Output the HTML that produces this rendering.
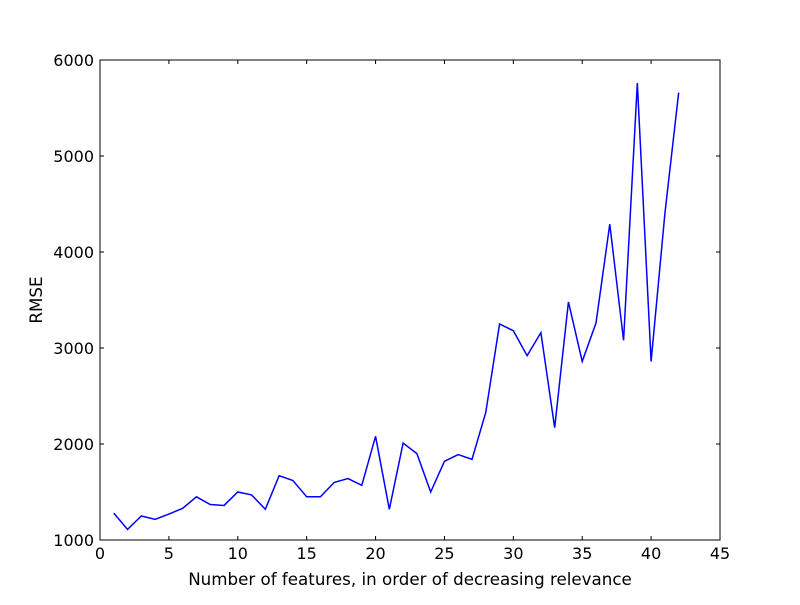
<!DOCTYPE html>
<html><head><meta charset="utf-8"><style>
body{margin:0;background:#fff;}
svg text{font-family:"DejaVu Sans","Liberation Sans",sans-serif;font-size:16px;fill:#000;}
svg text.title{font-size:16.7px;}
</style></head><body>
<svg id="chart" width="800" height="600" xmlns="http://www.w3.org/2000/svg">
<rect width="800" height="600" fill="#fff"/>
<g id="ticks"></g>
<path id="line" fill="none" stroke="#0000ff" stroke-width="1.5"/>
<rect x="100" y="60" width="620" height="480" fill="none" stroke="#000" stroke-width="1"/>
<text class="title" x="410" y="585" text-anchor="middle">Number of features, in order of decreasing relevance</text>
<text class="title" transform="translate(42,300) rotate(-90)" text-anchor="middle">RMSE</text>
</svg>
<script>
const features = [1,2,3,4,5,6,7,8,9,10,11,12,13,14,15,16,17,18,19,20,21,22,23,24,25,26,27,28,29,30,31,32,33,34,35,36,37,38,39,40,41,42];
const rmse = [1280,1110,1250,1215,1270,1330,1450,1370,1360,1500,1470,1320,1670,1620,1450,1450,1600,1640,1570,2080,1320,2010,1900,1500,1820,1890,1840,2330,3250,3180,2920,3160,2170,3480,2860,3260,4290,3080,5760,2860,4400,5660];
const xTicks = [0,5,10,15,20,25,30,35,40,45];
const yTicks = [1000,2000,3000,4000,5000,6000];
const X = v => 100 + v/45*620;
const Y = v => 540 - (v-1000)/5000*480;
const NS = "http://www.w3.org/2000/svg";
const g = document.getElementById('ticks');
function mk(tag, attrs){const e=document.createElementNS(NS,tag);for(const k in attrs)e.setAttribute(k,attrs[k]);return e;}
xTicks.forEach(t=>{
  const x=X(t);
  const a=mk('line',{x1:x,x2:x,y1:540,y2:536,stroke:'#000'});
  
  
  g.appendChild(a);
  const b=mk('line',{x1:x,x2:x,y1:60,y2:64,stroke:'#000'});
  
  
  g.appendChild(b);
  const tx=mk('text',{x:x,y:559,'text-anchor':'middle'});tx.textContent=t;
  
  
  g.appendChild(tx);
});
yTicks.forEach(t=>{
  const y=Y(t);
  const a=mk('line',{x1:100,x2:104,y1:y,y2:y,stroke:'#000'});
  
  
  g.appendChild(a);
  const b=mk('line',{x1:716,x2:720,y1:y,y2:y,stroke:'#000'});
  
  
  g.appendChild(b);
  const tx=mk('text',{x:94,y:y+6,'text-anchor':'end'});tx.textContent=t;
  
  
  g.appendChild(tx);
});
document.getElementById('line').setAttribute('d', features.map((f,i)=>(i?'L':'M')+X(f).toFixed(2)+','+Y(rmse[i]).toFixed(2)).join(''));
</script>
</body></html>
